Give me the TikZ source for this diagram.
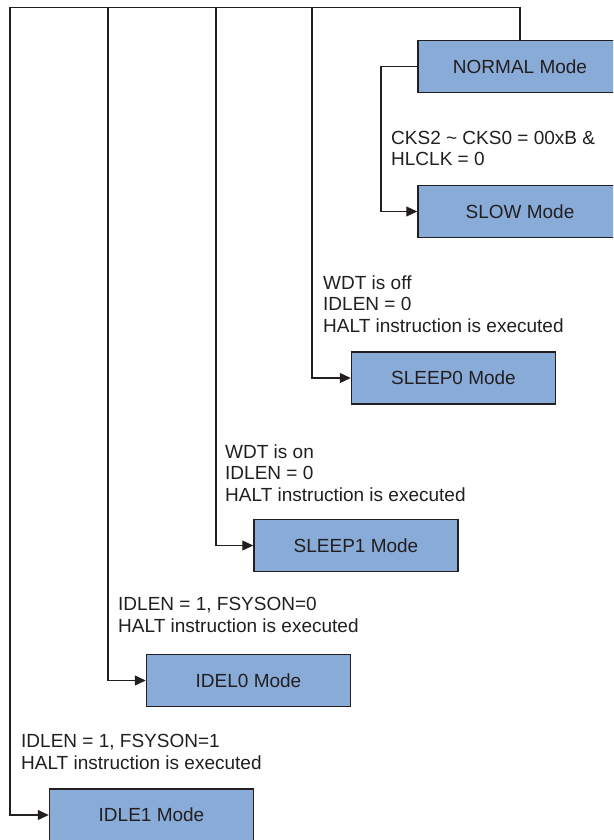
\documentclass[tikz,border=0pt]{standalone}
\usepackage{fontspec}
\setmainfont{Liberation Sans}
\usetikzlibrary{arrows.meta}
\definecolor{boxfill}{RGB}{136,171,216}
\definecolor{ink}{RGB}{35,31,32}
\begin{document}
\begin{tikzpicture}[x=1pt,y=-1pt,
  modebox/.style={draw=ink,line width=1.5pt,fill=boxfill,minimum width=204pt,minimum height=52pt,inner sep=0pt,font=\fontsize{19}{21.5}\selectfont,text=ink},
  cond/.style={anchor=north west,inner sep=0pt,align=left,font=\fontsize{19}{21.5}\selectfont,text=ink},
  wire/.style={draw=ink,line width=1.3pt},
  arr/.style={wire,-{Triangle[length=11pt,width=10pt]}}]
\clip (0,0) rectangle (613,840);
\fill[white] (0,0) rectangle (613,840);
% mode boxes
\node[modebox] (normal) at (520,66.5) {NORMAL Mode};
\node[modebox] (slow)   at (520,211.5) {SLOW Mode};
\node[modebox] (sleep0) at (453.5,378) {SLEEP0 Mode};
\node[modebox] (sleep1) at (356,545.5) {SLEEP1 Mode};
\node[modebox] (idel0)  at (248.5,680.5) {IDEL0 Mode};
\node[modebox] (idle1)  at (151.5,815) {IDLE1 Mode};
% condition texts
\node[cond] (c1) at (391,131) {CKS2 \string~ CKS0 = 00xB \&\\HLCLK = 0};
\node[cond] (c2) at (323,275.5) {WDT is off\\IDLEN = 0\\HALT instruction is executed};
\node[cond] (c3) at (225,444.5) {WDT is on\\IDLEN = 0\\HALT instruction is executed};
\node[cond] (c4) at (118,597.5) {IDLEN = 1, FSYSON=0\\HALT instruction is executed};
\node[cond] (c5) at (21,734.5) {IDLEN = 1, FSYSON=1\\HALT instruction is executed};
% connectors
\coordinate (bl) at (10,7.5);
\coordinate (b0) at (108,7.5);
\coordinate (b1) at (216,7.5);
\coordinate (b2) at (312,7.5);
\coordinate (k)  at (381,66.5);
\draw[wire] (normal.north) |- (bl);
\draw[arr] (bl) |- (idle1.west);
\draw[arr] (b0) |- (idel0.west);
\draw[arr] (b1) |- (sleep1.west);
\draw[arr] (b2) |- (sleep0.west);
\draw[arr] (normal.west) -- (k) |- (slow.west);
\end{tikzpicture}
\end{document}
